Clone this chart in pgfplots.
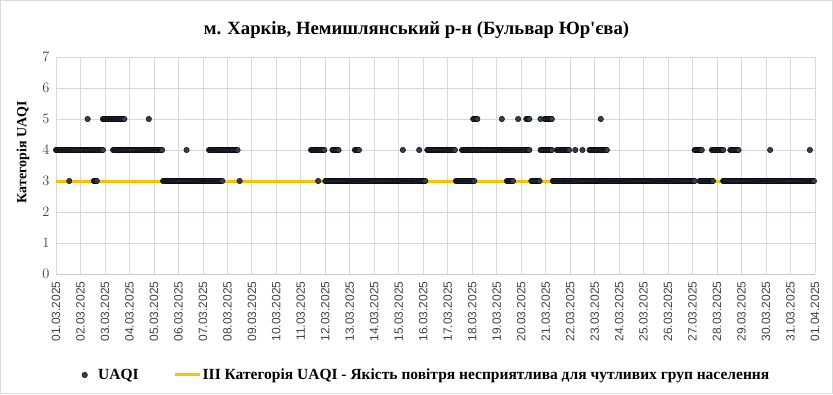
\documentclass[border=0pt]{standalone}
\usepackage{pgfplots}
\pgfplotsset{compat=1.18}
\usepackage{fontspec}
\setmainfont{Liberation Serif}[Ligatures=TeXOff]
\newfontfamily\tickfont{Liberation Sans}
\definecolor{dotcol}{RGB}{50,62,80}
\definecolor{lineyel}{RGB}{255,192,0}
\definecolor{vgrid}{RGB}{217,217,217}
\definecolor{hgrid}{RGB}{208,216,230}
\definecolor{brd}{RGB}{217,217,217}
\definecolor{ticktxt}{RGB}{64,64,64}
\begin{document}
\begin{tikzpicture}[x=1pt,y=1pt]
\useasboundingbox (0,0) rectangle (833,394);
\draw[brd,line width=0.8pt] (0.5,0.5) rectangle (832.5,393.5);
\node[font=\fontsize{18.7}{22}\selectfont\bfseries] at (416.5,364) {м. Харків, Немишлянський р-н (Бульвар Юр'єва)};
\begin{axis}[
  at={(56pt,120pt)}, anchor=south west,
  width=759pt, height=217pt, scale only axis,
  xmin=0, xmax=744, ymin=0, ymax=7,
  xtick={0,24,...,744},
  xticklabels={01.03.2025,02.03.2025,03.03.2025,04.03.2025,05.03.2025,06.03.2025,07.03.2025,08.03.2025,09.03.2025,10.03.2025,11.03.2025,12.03.2025,13.03.2025,14.03.2025,15.03.2025,16.03.2025,17.03.2025,18.03.2025,19.03.2025,20.03.2025,21.03.2025,22.03.2025,23.03.2025,24.03.2025,25.03.2025,26.03.2025,27.03.2025,28.03.2025,29.03.2025,30.03.2025,31.03.2025,01.04.2025},
  ytick={0,1,...,7},
  major tick length=0pt,
  axis line style={draw=none},
  xmajorgrids, ymajorgrids,
  x grid style={vgrid, line width=0.8pt},
  y grid style={hgrid, line width=0.8pt},
  xticklabel shift=4pt,
  yticklabel shift=3pt,
  xticklabel style={rotate=90, anchor=east, font=\tickfont\fontsize{12}{14}\selectfont, text=ticktxt},
  yticklabel style={font=\fontsize{13.3}{15}\selectfont, text=ticktxt},
  ylabel={Категорія UAQI},
  every axis y label/.style={at={(axis description cs:-0.0435,0.562)}, rotate=90, anchor=center, font=\fontsize{14}{16}\selectfont\bfseries},
  legend columns=2,
  legend style={at={(0.488,-0.4654)}, anchor=center, draw=none, fill=none,
    font=\fontsize{15.5}{18}\selectfont\bfseries,
    nodes={inner xsep=1.5pt},
    /tikz/every even column/.append style={column sep=33pt}},
  legend cell align=left,
  clip=false,
]
\draw[vgrid!80!gray, line width=0.8pt] (axis cs:0,0) -- (axis cs:744,0);
\addplot[lineyel, line width=3pt, forget plot] coordinates {(0,3) (744,3)};
\addplot[only marks, mark=*, mark size=2.75pt, mark options={fill=dotcol, draw=none},
  legend image code/.code={\path[draw=none,fill=none] (0pt,0pt) rectangle (12pt,0.1pt); \draw[only marks, mark=*, mark size=2.75pt, fill=dotcol, draw=none] plot coordinates {(0pt,0pt)};}] coordinates {
(0,4)(1,4)(2,4)(3,4)(4,4)(5,4)(6,4)(7,4)(8,4)(9,4)(10,4)(11,4)(12,4)(13,4)(14,4)(15,4)(16,4)(17,4)(18,4)(19,4)(20,4)(21,4)(22,4)(23,4)(24,4)(25,4)(26,4)(27,4)(28,4)(29,4)(30,4)(31,4)(32,4)(33,4)(34,4)(35,4)(36,4)(37,4)(38,4)(39,4)(40,4)(41,4)(42,4)(43,4)(44,4)(45,4)(46,4)
(56,4)(57,4)(58,4)(59,4)(60,4)(61,4)(62,4)(63,4)(64,4)(65,4)(66,4)(67,4)(68,4)(69,4)(70,4)(71,4)(72,4)(73,4)(74,4)(75,4)(76,4)(77,4)(78,4)(79,4)(80,4)(81,4)(82,4)(83,4)(84,4)(85,4)(86,4)(87,4)(88,4)(89,4)(90,4)(91,4)(92,4)(93,4)(94,4)(95,4)(96,4)(97,4)(98,4)(99,4)(100,4)(101,4)(102,4)(103,4)(104,4)
(128,4)
(150,4)(151,4)(152,4)(153,4)(154,4)(155,4)(156,4)(157,4)(158,4)(159,4)(160,4)(161,4)(162,4)(163,4)(164,4)(165,4)(166,4)(167,4)(168,4)(169,4)(170,4)(171,4)(172,4)(173,4)(174,4)(175,4)(176,4)(177,4)(178,4)
(250,4)(251,4)(252,4)(253,4)(254,4)(255,4)(256,4)(257,4)(258,4)(259,4)(260,4)(261,4)(262,4)(263,4)
(271,4)(272,4)(273,4)(274,4)(275,4)(276,4)(277,4)
(293,4)(294,4)(295,4)(296,4)(297,4)
(340,4)(356,4)
(364,4)(365,4)(366,4)(367,4)(368,4)(369,4)(370,4)(371,4)(372,4)(373,4)(374,4)(375,4)(376,4)(377,4)(378,4)(379,4)(380,4)(381,4)(382,4)(383,4)(384,4)(385,4)(386,4)(387,4)(388,4)(389,4)(390,4)(391,4)
(398,4)(399,4)(400,4)(401,4)(402,4)(403,4)(404,4)(405,4)(406,4)(407,4)(408,4)(409,4)(410,4)(411,4)(412,4)(413,4)(414,4)(415,4)(416,4)(417,4)(418,4)(419,4)(420,4)(421,4)(422,4)(423,4)(424,4)(425,4)(426,4)(427,4)(428,4)(429,4)(430,4)(431,4)(432,4)(433,4)(434,4)(435,4)(436,4)(437,4)(438,4)(439,4)(440,4)(441,4)(442,4)(443,4)(444,4)(445,4)(446,4)(447,4)(448,4)(449,4)(450,4)(451,4)(452,4)(453,4)(454,4)(455,4)(456,4)(457,4)(458,4)(459,4)(460,4)(461,4)(462,4)(463,4)(464,4)
(475,4)(476,4)(477,4)(478,4)(479,4)(480,4)(481,4)(482,4)(483,4)(484,4)(485,4)(486,4)
(491,4)(492,4)(493,4)(494,4)(495,4)(496,4)(497,4)(498,4)(499,4)(500,4)(501,4)(502,4)(503,4)
(509,4)(516,4)
(523,4)(524,4)(525,4)(526,4)(527,4)(528,4)(529,4)(530,4)(531,4)(532,4)(533,4)(534,4)(535,4)(536,4)(537,4)(538,4)(539,4)(540,4)
(626,4)(627,4)(628,4)(629,4)(630,4)(631,4)(632,4)(633,4)
(643,4)(644,4)(645,4)(646,4)(647,4)(648,4)(649,4)(650,4)(651,4)(652,4)(653,4)(654,4)
(661,4)(662,4)(663,4)(664,4)(665,4)(666,4)(667,4)(668,4)(669,4)
(700,4)(739,4)
(31,5)
(46,5)(47,5)(48,5)(49,5)(50,5)(51,5)(52,5)(53,5)(54,5)(55,5)(56,5)(57,5)(58,5)(59,5)(60,5)(61,5)(62,5)(63,5)(64,5)(65,5)(66,5)(67,5)
(91,5)
(409,5)(410,5)(411,5)(412,5)(413,5)
(437,5)(453,5)
(461,5)(462,5)(463,5)(464,5)
(475,5)(479,5)(480,5)(481,5)(482,5)(483,5)(484,5)(485,5)(486,5)
(534,5)
(13,3)
(37,3)(38,3)(39,3)(40,3)
(105,3)(106,3)(107,3)(108,3)(109,3)(110,3)(111,3)(112,3)(113,3)(114,3)(115,3)(116,3)(117,3)(118,3)(119,3)(120,3)(121,3)(122,3)(123,3)(124,3)(125,3)(126,3)(127,3)(128,3)(129,3)(130,3)(131,3)(132,3)(133,3)(134,3)(135,3)(136,3)(137,3)(138,3)(139,3)(140,3)(141,3)(142,3)(143,3)(144,3)(145,3)(146,3)(147,3)(148,3)(149,3)(150,3)(151,3)(152,3)(153,3)(154,3)(155,3)(156,3)(157,3)(158,3)(159,3)(160,3)(161,3)(162,3)(163,3)
(180,3)(257,3)
(264,3)(265,3)(266,3)(267,3)(268,3)(269,3)(270,3)(271,3)(272,3)(273,3)(274,3)(275,3)(276,3)(277,3)(278,3)(279,3)(280,3)(281,3)(282,3)(283,3)(284,3)(285,3)(286,3)(287,3)(288,3)(289,3)(290,3)(291,3)(292,3)(293,3)(294,3)(295,3)(296,3)(297,3)(298,3)(299,3)(300,3)(301,3)(302,3)(303,3)(304,3)(305,3)(306,3)(307,3)(308,3)(309,3)(310,3)(311,3)(312,3)(313,3)(314,3)(315,3)(316,3)(317,3)(318,3)(319,3)(320,3)(321,3)(322,3)(323,3)(324,3)(325,3)(326,3)(327,3)(328,3)(329,3)(330,3)(331,3)(332,3)(333,3)(334,3)(335,3)(336,3)(337,3)(338,3)(339,3)(340,3)(341,3)(342,3)(343,3)(344,3)(345,3)(346,3)(347,3)(348,3)(349,3)(350,3)(351,3)(352,3)(353,3)(354,3)(355,3)(356,3)(357,3)(358,3)(359,3)(360,3)(361,3)(362,3)
(392,3)(393,3)(394,3)(395,3)(396,3)(397,3)(398,3)(399,3)(400,3)(401,3)(402,3)(403,3)(404,3)(405,3)(406,3)(407,3)(408,3)(409,3)(410,3)
(442,3)(443,3)(444,3)(445,3)(446,3)(447,3)(448,3)
(466,3)(467,3)(468,3)(469,3)(470,3)(471,3)(472,3)(473,3)(474,3)
(487,3)(488,3)(489,3)(490,3)(491,3)(492,3)(493,3)(494,3)(495,3)(496,3)(497,3)(498,3)(499,3)(500,3)(501,3)(502,3)(503,3)(504,3)(505,3)(506,3)(507,3)(508,3)(509,3)(510,3)(511,3)(512,3)(513,3)(514,3)(515,3)(516,3)(517,3)(518,3)(519,3)(520,3)(521,3)(522,3)(523,3)(524,3)(525,3)(526,3)(527,3)(528,3)(529,3)(530,3)(531,3)(532,3)(533,3)(534,3)(535,3)(536,3)(537,3)(538,3)(539,3)(540,3)(541,3)(542,3)(543,3)(544,3)(545,3)(546,3)(547,3)(548,3)(549,3)(550,3)(551,3)(552,3)(553,3)(554,3)(555,3)(556,3)(557,3)(558,3)(559,3)(560,3)(561,3)(562,3)(563,3)(564,3)(565,3)(566,3)(567,3)(568,3)(569,3)(570,3)(571,3)(572,3)(573,3)(574,3)(575,3)(576,3)(577,3)(578,3)(579,3)(580,3)(581,3)(582,3)(583,3)(584,3)(585,3)(586,3)(587,3)(588,3)(589,3)(590,3)(591,3)(592,3)(593,3)(594,3)(595,3)(596,3)(597,3)(598,3)(599,3)(600,3)(601,3)(602,3)(603,3)(604,3)(605,3)(606,3)(607,3)(608,3)(609,3)(610,3)(611,3)(612,3)(613,3)(614,3)(615,3)(616,3)(617,3)(618,3)(619,3)(620,3)(621,3)(622,3)(623,3)(624,3)(625,3)(626,3)
(631,3)(632,3)(633,3)(634,3)(635,3)(636,3)(637,3)(638,3)(639,3)(640,3)(641,3)(642,3)(643,3)(644,3)
(654,3)(655,3)(656,3)(657,3)(658,3)(659,3)(660,3)(661,3)(662,3)(663,3)(664,3)(665,3)(666,3)(667,3)(668,3)(669,3)(670,3)(671,3)(672,3)(673,3)(674,3)(675,3)(676,3)(677,3)(678,3)(679,3)(680,3)(681,3)(682,3)(683,3)(684,3)(685,3)(686,3)(687,3)(688,3)(689,3)(690,3)(691,3)(692,3)(693,3)(694,3)(695,3)(696,3)(697,3)(698,3)(699,3)(700,3)(701,3)(702,3)(703,3)(704,3)(705,3)(706,3)(707,3)(708,3)(709,3)(710,3)(711,3)(712,3)(713,3)(714,3)(715,3)(716,3)(717,3)(718,3)(719,3)(720,3)(721,3)(722,3)(723,3)(724,3)(725,3)(726,3)(727,3)(728,3)(729,3)(730,3)(731,3)(732,3)(733,3)(734,3)(735,3)(736,3)(737,3)(738,3)(739,3)(740,3)(741,3)(742,3)(743,3)
};
\addlegendentry{UAQI}
\addlegendimage{lineyel, line width=3pt, legend image code/.code={\draw[lineyel, line width=3pt] (0pt,0pt) -- (25pt,0pt);}}
\addlegendentry{ІІІ Категорія UAQI - Якість повітря несприятлива для чутливих груп населення}
\end{axis}
\end{tikzpicture}
\end{document}
